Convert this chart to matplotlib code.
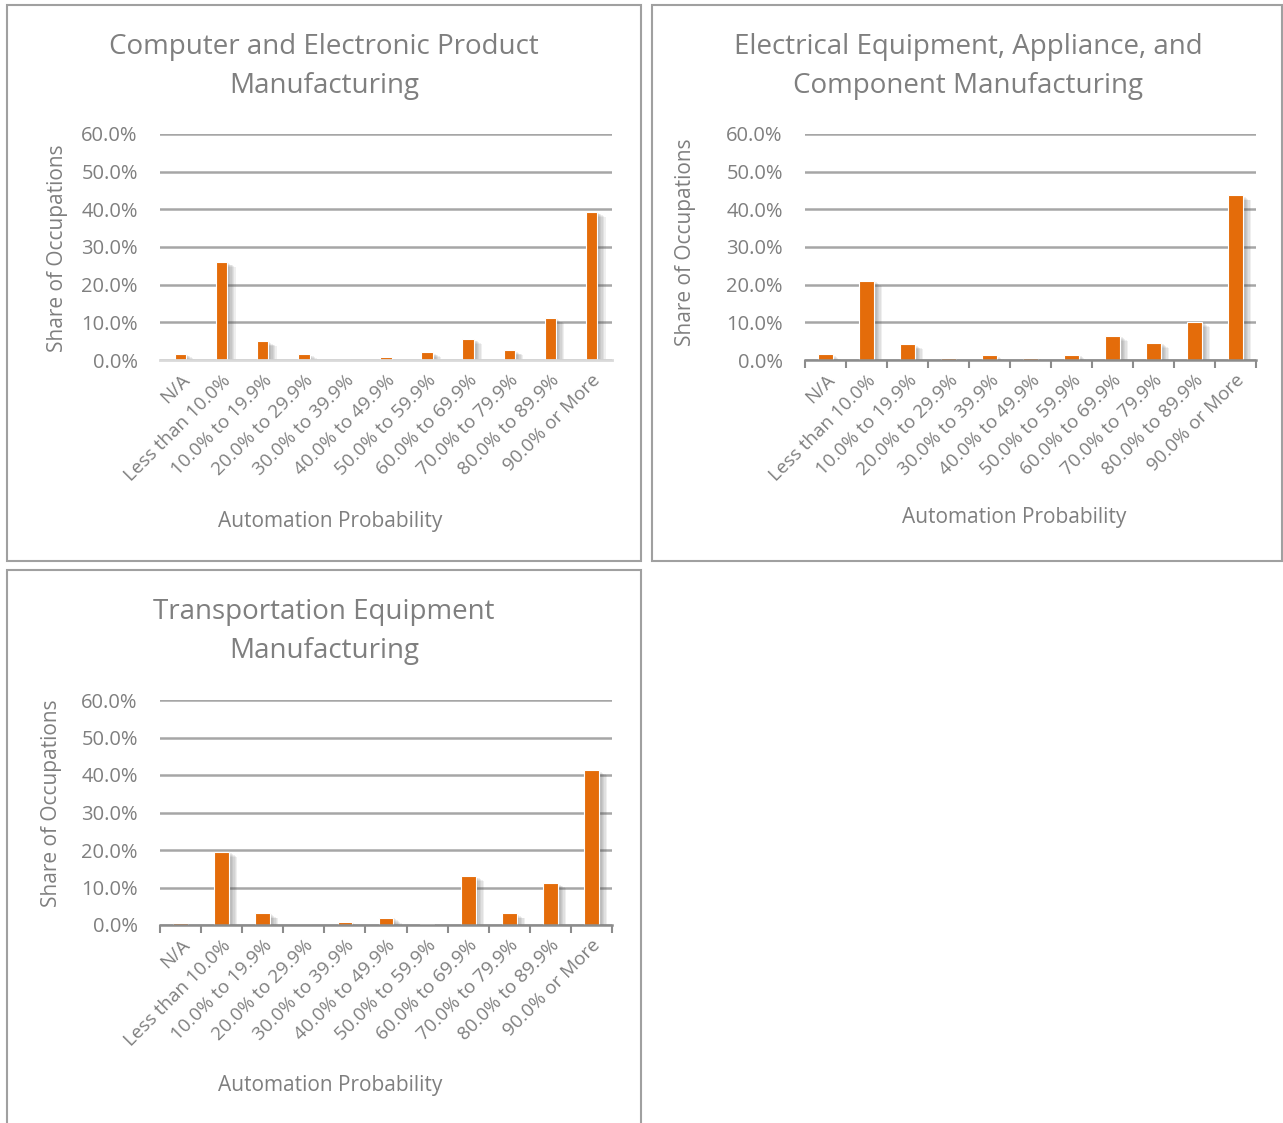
import numpy as np
import matplotlib.pyplot as plt
import matplotlib.patheffects as pe
from matplotlib.patches import Rectangle
from matplotlib.ticker import FuncFormatter, FixedLocator

plt.rcParams['font.family'] = ['Open Sans', 'DejaVu Sans']

categories = ["N/A", "Less than 10.0%", "10.0% to 19.9%", "20.0% to 29.9%",
              "30.0% to 39.9%", "40.0% to 49.9%", "50.0% to 59.9%",
              "60.0% to 69.9%", "70.0% to 79.9%", "80.0% to 89.9%",
              "90.0% or More"]

computer = [1.6, 26.0, 5.0, 1.6, 0.0, 0.7, 2.1, 5.6, 2.6, 11.1, 39.3]
electrical = [1.5, 21.1, 4.2, 0.4, 1.25, 0.6, 1.4, 6.5, 4.6, 10.2, 43.7]
transport = [0.45, 19.6, 3.1, 0.0, 0.7, 2.0, 0.4, 13.1, 3.1, 11.2, 41.25]

titles = ["Computer and Electronic Product\nManufacturing",
          "Electrical Equipment, Appliance, and\nComponent Manufacturing",
          "Transportation Equipment\nManufacturing"]

ORANGE = "#E46C0A"
TEXT = "#7F7F7F"
GRID = "#A6A6A6"

W, H = 1283, 1123
fig = plt.figure(figsize=(W / 100, H / 100), dpi=100)


def fx(px):
    return px / W


def fy(py):
    return 1 - py / H


# panel frames
for x0, y0, x1, y1 in [(7, 5, 641, 561), (652, 5, 1282, 561), (7, 570, 641, 1125)]:
    fig.add_artist(Rectangle((fx(x0), fy(y1)), fx(x1 - x0), (y1 - y0) / H,
                             transform=fig.transFigure, fill=False,
                             edgecolor="#A0A0A0", linewidth=1.5))

# soft drop shadow built from several faint offset copies
shadow = [pe.SimplePatchShadow(offset=(d, -d * 0.6), shadow_rgbFace="#505050", alpha=0.09)
          for d in (1, 2, 3, 4, 5, 6)]
shadow.append(pe.Normal())

panels = [
    # values, axes box (px), title centre, ylabel pos, xlabel pos, bar width, ticks
    (computer, (160, 134, 612, 360), (324, 66.5), (57, 248), (330, 521), 0.28, False),
    (electrical, (805, 134, 1256, 360), (968, 66.5), (685, 242), (1014, 518), 0.36, True),
    (transport, (160, 700, 612, 925), (324, 631.5), (52, 803), (330, 1086), 0.36, True),
]

for (vals, box, tpos, ypos, xpos, bw, ticks), title in zip(panels, titles):
    l, t, r, b = box
    ax = fig.add_axes([fx(l), fy(b), fx(r - l), (b - t) / H])
    x = np.arange(len(categories))
    bars = ax.bar(x, vals, width=bw, color=ORANGE, edgecolor="white",
                  linewidth=0.8, zorder=3)
    for bar in bars:
        bar.set_path_effects(shadow)
    ax.set_xlim(-0.5, len(categories) - 0.5)
    ax.set_ylim(0, 60)
    ax.set_yticks(np.arange(0, 61, 10))
    ax.yaxis.set_major_formatter(FuncFormatter(lambda v, p: f"{v:.1f}%"))
    ax.grid(axis="y", color=GRID, linewidth=1.8, zorder=0)
    for s in ["top", "right", "left"]:
        ax.spines[s].set_visible(False)
    ax.spines["bottom"].set_zorder(4)
    if ticks:
        ax.spines["bottom"].set_color("#8C8C8C")
        ax.spines["bottom"].set_linewidth(1.8)
        ax.xaxis.set_minor_locator(FixedLocator(np.arange(-0.5, len(categories), 1.0)))
        ax.tick_params(axis="x", which="minor", length=6, width=1.5, color="#8C8C8C")
    else:
        ax.spines["bottom"].set_color("#D9D9D9")
        ax.spines["bottom"].set_linewidth(2)
    ax.set_xticks(x)
    ax.set_xticklabels(categories, rotation=45, ha="right", rotation_mode="anchor",
                       fontsize=13.6, color=TEXT)
    ax.tick_params(axis="x", which="major", length=0, pad=8)
    ax.tick_params(axis="y", length=0, labelsize=14.5, labelcolor=TEXT, pad=16)
    ax.set_axisbelow(True)

    fig.text(fx(tpos[0]), fy(tpos[1]), title, ha="center", va="center",
             fontsize=20, color=TEXT, linespacing=1.55)
    fig.text(fx(ypos[0]), fy(ypos[1]), "Share of Occupations", rotation=90,
             ha="center", va="center", fontsize=15, color=TEXT)
    fig.text(fx(xpos[0]), fy(xpos[1]), "Automation Probability",
             ha="center", va="center", fontsize=15, color=TEXT)

fig.savefig("out.png", dpi=100, facecolor="white")
